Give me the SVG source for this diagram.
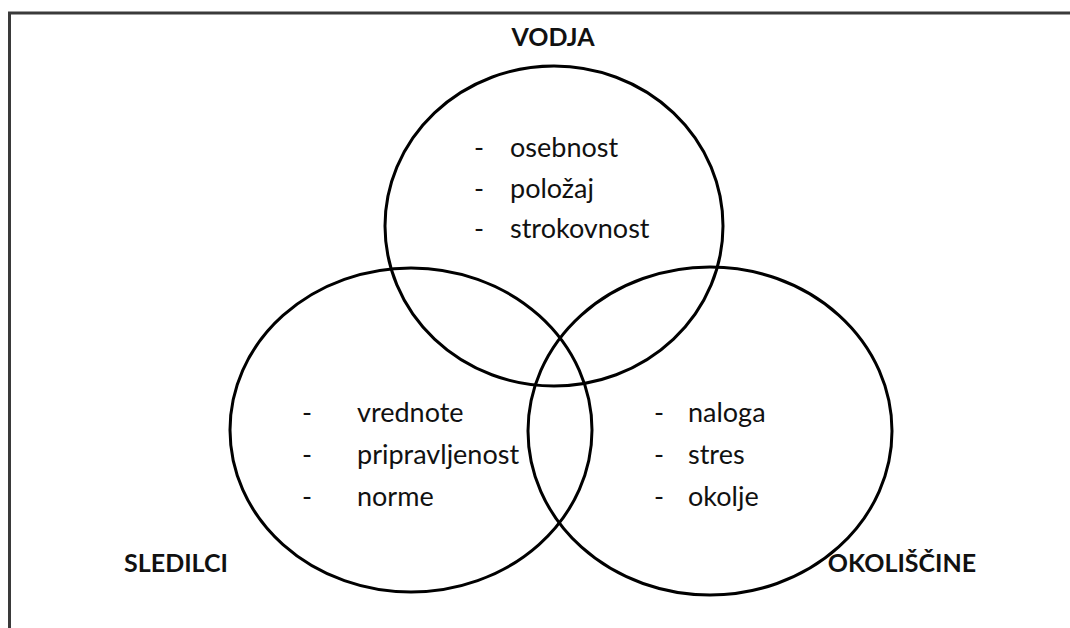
<svg xmlns="http://www.w3.org/2000/svg" width="1070" height="628" viewBox="0 0 1070 628">
<style>
.c{fill:none;stroke:#000;stroke-width:3}
.t{font-family:Lato,"Open Sans",sans-serif;font-size:27px;fill:#111}
.h{font-family:Lato,"Open Sans",sans-serif;font-size:25px;font-weight:bold;fill:#111}
.f{stroke:#3a3a3a;stroke-width:3}
</style>
<rect width="1070" height="628" fill="#fff"/>
<g id="frame">
<line class="f" x1="8" y1="13" x2="1070" y2="13"/>
<line class="f" x1="9.5" y1="12" x2="9.5" y2="628"/>
</g>
<g id="vodja">
<ellipse class="c" cx="554" cy="226" rx="169" ry="160"/>
<text class="h" x="553" y="46" text-anchor="middle">VODJA</text>
<text class="t" x="474" y="157">-</text><text class="t" x="510" y="157">osebnost</text>
<text class="t" x="474" y="198">-</text><text class="t" x="510" y="198">položaj</text>
<text class="t" x="474" y="238">-</text><text class="t" x="510" y="238">strokovnost</text>
</g>
<g id="sledilci">
<ellipse class="c" cx="411" cy="430" rx="181" ry="162"/>
<text class="h" x="176" y="572" text-anchor="middle">SLEDILCI</text>
<text class="t" x="302" y="422">-</text><text class="t" x="357" y="422">vrednote</text>
<text class="t" x="302" y="464">-</text><text class="t" x="357" y="464">pripravljenost</text>
<text class="t" x="302" y="506">-</text><text class="t" x="357" y="506">norme</text>
</g>
<g id="okoliscine">
<ellipse class="c" cx="710" cy="431" rx="182" ry="164"/>
<text class="h" x="902" y="572" text-anchor="middle">OKOLIŠČINE</text>
<text class="t" x="654" y="422">-</text><text class="t" x="688" y="422">naloga</text>
<text class="t" x="654" y="464">-</text><text class="t" x="688" y="464">stres</text>
<text class="t" x="654" y="506">-</text><text class="t" x="688" y="506">okolje</text>
</g>
<g id="connectors"></g>
</svg>
